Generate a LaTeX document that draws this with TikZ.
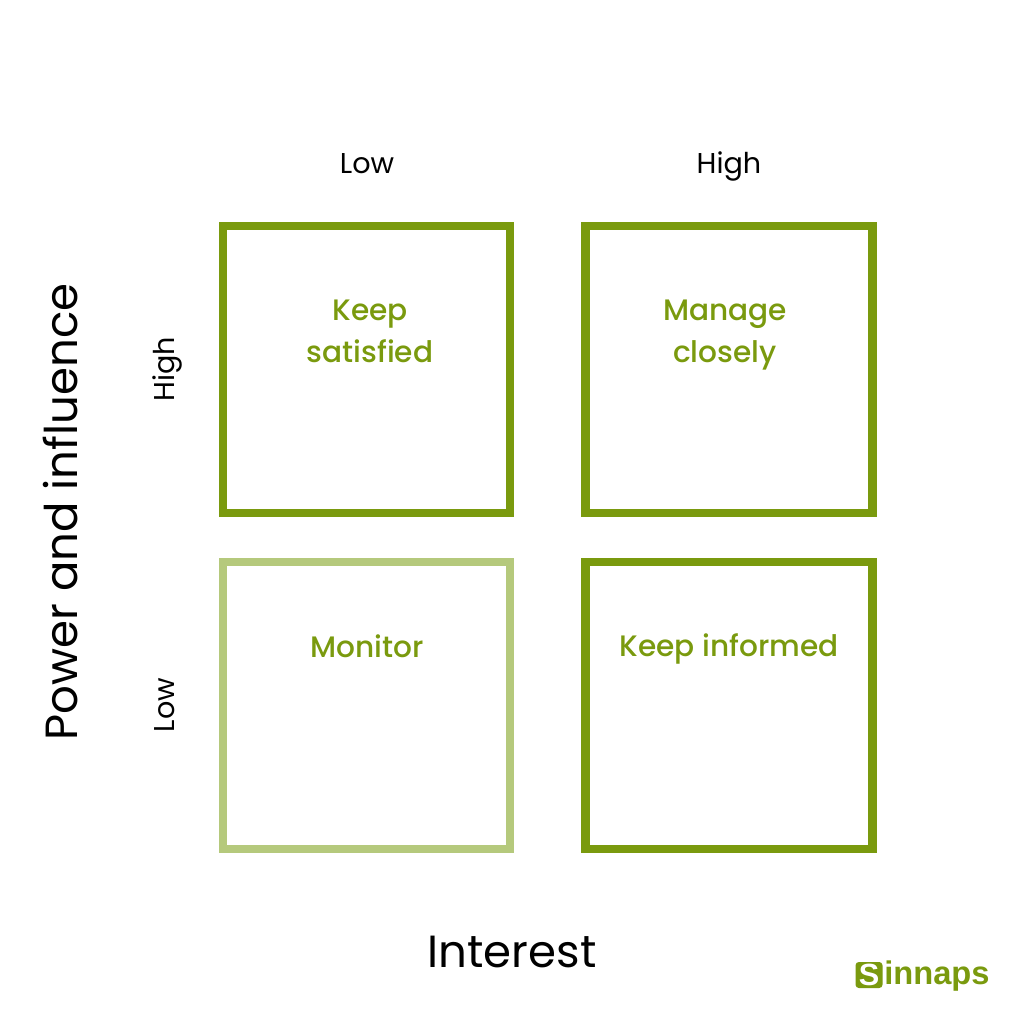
\documentclass[tikz,border=0pt]{standalone}
\usepackage{fontspec}
\setmainfont{Poppins}
\newfontfamily\quadfont{Poppins Medium}
\newfontfamily\logofont{Liberation Sans}
\definecolor{boxgreen}{HTML}{7A9A0E}
\definecolor{palegreen}{HTML}{B5C97C}
\tikzset{
  quad/.style={draw=boxgreen,line width=8.5pt*0.75,minimum size=287*0.75pt,inner sep=0pt},
  quadtext/.style={text=boxgreen,font=\fontsize{22.2}{31.5}\selectfont\quadfont,align=center},
  axislabel/.style={font=\fontsize{21.5}{24}\selectfont,text height=15pt,text depth=4pt},
  axistitle/.style={font=\fontsize{33.8}{40}\selectfont},
  logobox/.style={fill=boxgreen,rounded corners=2.5pt,text=white,inner sep=0pt,minimum width=27*0.75pt,minimum height=26*0.75pt,font=\fontsize{23}{26}\selectfont\logofont\bfseries},
  logotext/.style={text=boxgreen,inner sep=0pt,font=\fontsize{24.5}{30}\selectfont\logofont\bfseries},
}
\begin{document}
\begin{tikzpicture}[x=0.75pt,y=-0.75pt]
\useasboundingbox (0,0) rectangle (1024,1024);
\node[quad] (kA) at (366.5,369.5) {};
\node[quad] (kB) at (729,369.5) {};
\node[quad,draw=palegreen] (kC) at (366.5,705.5) {};
\node[quad] (kD) at (729,705.5) {};
\node[quadtext] (tA) at (370,331) {Keep\\satisfied};
\node[quadtext] (tB) at (725,335) {Manage\\closely};
\node[quadtext] (tC) at (367,646) {Monitor};
\node[quadtext] (tD) at (729,649) {Keep informed};
\node[axislabel] (xL) at (367,166) {Low};
\node[axislabel] (xH) at (729,166) {High};
\node[axislabel,rotate=90] (yH) at (167,369) {High};
\node[axislabel,rotate=90] (yL) at (167,705) {Low};
\node[axistitle,rotate=90] (yT) at (60,512) {Power and influence};
\node[axistitle] (xT) at (512,952) {Interest};
\node[logobox] (logoS) at (869,975) {S};
\node[logotext,anchor=west] (logoT) at (884,976) {innaps};
\end{tikzpicture}
\end{document}
